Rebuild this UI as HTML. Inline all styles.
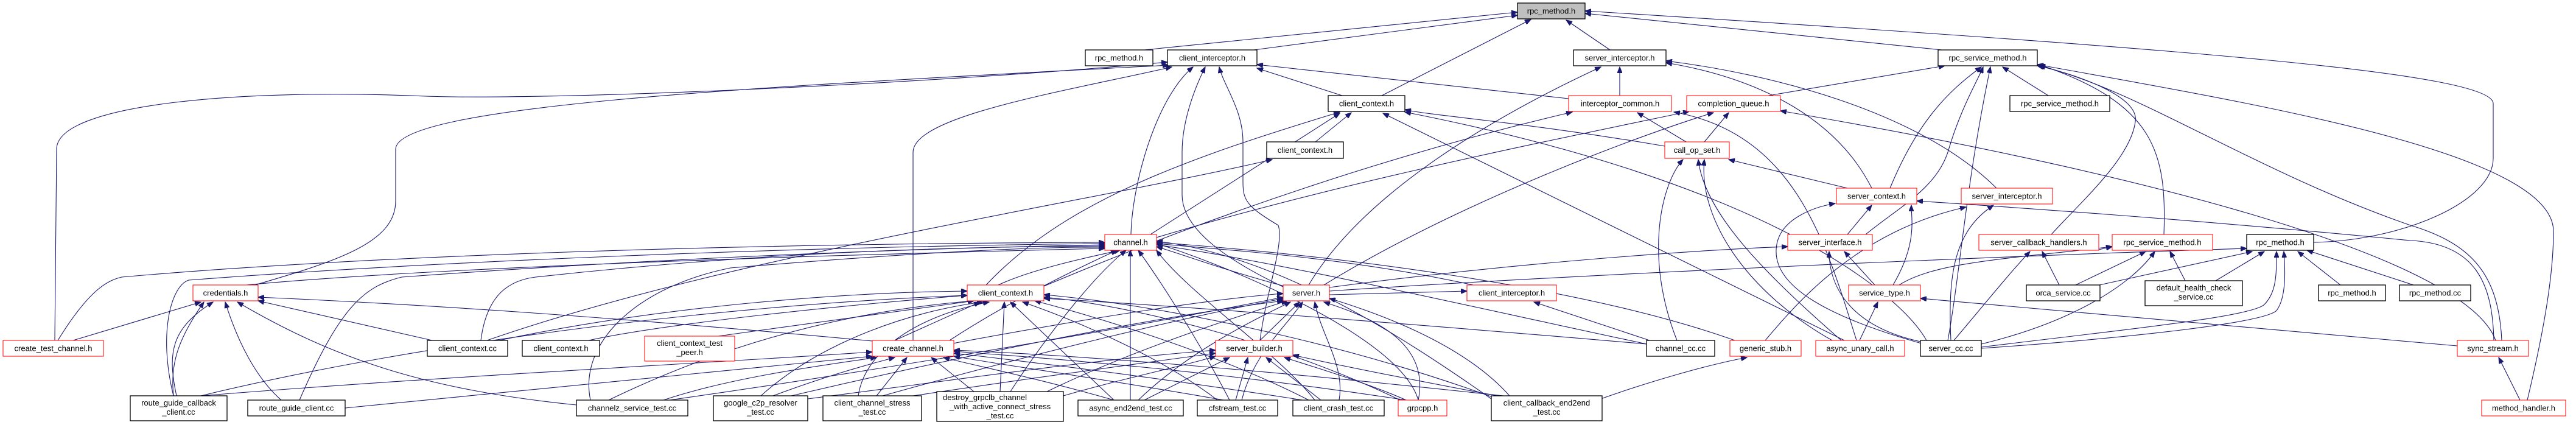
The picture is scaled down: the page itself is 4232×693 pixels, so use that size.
<!DOCTYPE html>
<html><head><meta charset="utf-8"><style>
html,body{margin:0;padding:0;background:#fff;width:4232px;height:693px;overflow:hidden}
svg{display:block}
text{font-family:"Liberation Sans",sans-serif;font-size:13px;fill:#000}
.r{fill:#fff;stroke:#ff0000;stroke-width:1}
.b{fill:#fff;stroke:#000;stroke-width:1.3}
.g{fill:#bfbfbf;stroke:#000;stroke-width:1.3}
path{fill:none;stroke:#191970;stroke-width:1.1}
</style></head><body>
<svg width="4232" height="693" viewBox="0 0 4232 693" xmlns="http://www.w3.org/2000/svg">
<defs><marker id="a" markerWidth="11" markerHeight="8" refX="10" refY="4" orient="auto" markerUnits="userSpaceOnUse"><path d="M0,0 L10,4 L0,8 Z" style="fill:#191970;stroke:#191970"/></marker></defs>
<g marker-end="url(#a)">
<path d="M1880 82 L2493 20"/>
<path d="M2060 82 L2493 25"/>
<path d="M2270 157 L2515 32"/>
<path d="M2645 82 L2573 33"/>
<path d="M3190 82 L2604 22"/>
<path d="M3801 398 C3950 395 4096 330 4096 260 L4096 170 C4096 120 3600 80 2604 18"/>
<path d="M4152 657 C4180 540 4195 450 4195 380 C4195 250 3700 170 3347 106"/>
<path d="M4140 657 L4105 587"/>
<path d="M1858 385 C1860 300 1900 160 1960 110"/>
<path d="M1500 559 L1500 250 C1500 190 1750 150 1925 110"/>
<path d="M405 472 C550 430 650 400 650 330 L650 245 C650 170 1300 140 1920 107"/>
<path d="M90 559 L93 245 C93 170 400 145 700 158 C900 165 1500 140 1918 102"/>
<path d="M2070 559 C2080 480 2110 400 2100 370 C2050 340 2042 330 2042 300 L2042 233 C2042 180 2010 140 2003 110"/>
<path d="M2110 472 C2000 420 1942 370 1942 320 L1942 250 C1942 190 1970 130 1980 110"/>
<path d="M2577 162 L2065 106"/>
<path d="M2205 157 L2065 112"/>
<path d="M1620 468 C1750 330 1950 260 2201 184"/>
<path d="M2161 233 L2220 185"/>
<path d="M1890 385 L2201 186"/>
<path d="M800 559 C1200 420 1800 330 2090 262"/>
<path d="M967 559 C1100 530 1400 500 1589 485"/>
<path d="M2661 157 L2661 110"/>
<path d="M2150 468 C2250 300 2500 170 2630 110"/>
<path d="M3075 309 C3020 200 2900 130 2737 103"/>
<path d="M3280 309 C3150 180 2900 120 2737 100"/>
<path d="M2905 157 L3195 108"/>
<path d="M3365 157 L3290 110"/>
<path d="M3105 309 C3150 200 3200 150 3255 110"/>
<path d="M3065 385 C3120 340 3180 310 3200 250 C3220 180 3250 130 3258 110"/>
<path d="M3370 385 C3420 330 3500 260 3508 200 C3515 160 3420 125 3350 108"/>
<path d="M3555 385 C3560 250 3540 170 3350 106"/>
<path d="M4110 559 C4105 450 4060 400 3960 370 C3700 280 3500 140 3347 108"/>
<path d="M3200 559 C3220 450 3230 300 3270 110"/>
<path d="M2735 240 C2500 200 2350 190 2308 180"/>
<path d="M3030 559 L2272 186"/>
<path d="M3165 559 C3120 480 2900 300 2308 184"/>
<path d="M2770 233 L2690 185"/>
<path d="M1715 470 C2000 350 2300 250 2583 184"/>
<path d="M3050 559 C3000 400 2950 220 2750 184"/>
<path d="M2800 233 L2840 185"/>
<path d="M2175 468 C2400 330 2700 220 2815 185"/>
<path d="M1900 390 C2200 300 2550 230 2775 183"/>
<path d="M4100 559 C4050 420 3500 280 2925 182"/>
<path d="M2755 559 C2700 420 2730 300 2765 262"/>
<path d="M3025 559 C2900 450 2800 350 2790 262"/>
<path d="M3010 559 C2870 480 2790 360 2800 262"/>
<path d="M3035 309 L2840 262"/>
<path d="M3035 385 L3075 337"/>
<path d="M3110 468 C3150 400 3140 360 3140 337"/>
<path d="M3160 565 C3000 520 2915 470 2918 410 C2920 360 2980 340 3015 334"/>
<path d="M3205 559 C3200 450 3210 380 3275 337"/>
<path d="M95 559 C150 470 180 460 200 455 C600 420 1200 400 1815 398"/>
<path d="M285 650 C260 550 280 470 310 460 C700 430 1300 405 1815 400"/>
<path d="M492 657 C560 500 600 470 660 455 C1000 430 1400 410 1815 402"/>
<path d="M790 559 C800 480 840 460 880 455 C1200 420 1500 405 1815 404"/>
<path d="M970 657 C950 560 1050 470 1200 440 C1500 415 1700 405 1815 406"/>
<path d="M405 468 C700 440 1300 420 1815 408"/>
<path d="M1640 468 C1700 440 1800 420 1840 411"/>
<path d="M1560 559 C1650 500 1750 450 1835 411"/>
<path d="M1660 643 C1720 550 1800 450 1850 411"/>
<path d="M1857 657 L1857 411"/>
<path d="M2020 657 C1980 580 1920 480 1870 411"/>
<path d="M2160 657 C2100 580 1950 480 1900 411"/>
<path d="M2330 657 C2300 550 2000 430 1900 400"/>
<path d="M2450 655 C2300 550 2100 420 1900 396"/>
<path d="M2110 470 C2000 440 1950 420 1900 405"/>
<path d="M2420 468 C2200 420 2000 410 1900 400"/>
<path d="M2705 565 C2400 500 2100 430 1900 402"/>
<path d="M2850 559 C2600 470 2200 420 1900 398"/>
<path d="M120 559 L330 496"/>
<path d="M285 650 C280 600 290 560 335 496"/>
<path d="M290 650 C275 580 280 540 350 496"/>
<path d="M462 657 C420 620 390 560 370 496"/>
<path d="M947 665 C700 640 550 590 390 496"/>
<path d="M710 559 L424 494"/>
<path d="M1433 560 C1000 520 700 500 424 488"/>
<path d="M820 559 C1100 500 1400 480 1589 478"/>
<path d="M1180 552 L1600 494"/>
<path d="M1470 559 L1610 496"/>
<path d="M1250 650 C1350 560 1500 510 1615 496"/>
<path d="M1410 650 C1420 580 1500 520 1625 496"/>
<path d="M1643 643 L1650 496"/>
<path d="M1830 657 L1660 496"/>
<path d="M2000 657 C1900 580 1750 520 1680 496"/>
<path d="M2150 657 C2000 580 1800 520 1700 494"/>
<path d="M2300 657 C2100 560 1850 500 1715 488"/>
<path d="M2460 655 C2200 560 1900 500 1715 484"/>
<path d="M1000 657 C1200 560 1400 510 1600 494"/>
<path d="M330 650 C700 560 1200 500 1589 485"/>
<path d="M2705 565 C2300 530 1900 500 1715 490"/>
<path d="M2070 559 L2135 496"/>
<path d="M2200 657 C2210 600 2170 550 2160 496"/>
<path d="M2330 657 C2350 560 2250 520 2175 496"/>
<path d="M2480 650 C2400 560 2250 510 2184 490"/>
<path d="M1870 657 C1950 580 2050 530 2120 496"/>
<path d="M2040 657 C2060 580 2110 540 2140 496"/>
<path d="M1300 650 C1600 580 1900 520 2108 494"/>
<path d="M1450 650 C1700 580 1950 520 2110 490"/>
<path d="M1720 643 C1850 580 2000 530 2115 494"/>
<path d="M1100 657 C1500 600 1900 530 2108 488"/>
<path d="M1560 565 C1800 520 2000 490 2108 482"/>
<path d="M2710 559 L2520 496"/>
<path d="M2184 484 L2410 478"/>
<path d="M330 650 C700 620 1100 600 1433 578"/>
<path d="M1090 657 C1200 620 1350 600 1440 587"/>
<path d="M1270 650 C1350 620 1420 600 1470 587"/>
<path d="M1440 650 L1490 587"/>
<path d="M1600 643 L1530 587"/>
<path d="M1830 657 C1700 620 1600 600 1550 587"/>
<path d="M2010 657 C1800 620 1650 600 1567 585"/>
<path d="M2140 657 C1900 620 1700 595 1567 580"/>
<path d="M2310 657 C2000 610 1750 590 1567 577"/>
<path d="M2470 650 C2100 610 1800 585 1567 575"/>
<path d="M567 670 C900 640 1200 610 1433 585"/>
<path d="M1880 657 L2020 587"/>
<path d="M2030 657 L2050 587"/>
<path d="M2170 657 L2080 587"/>
<path d="M2310 657 C2250 630 2150 600 2110 587"/>
<path d="M2460 650 C2300 620 2200 600 2124 583"/>
<path d="M1500 650 C1700 620 1850 600 1997 580"/>
<path d="M1747 650 C1850 620 1950 600 1997 585"/>
<path d="M1327 655 C1600 620 1800 590 1997 575"/>
<path d="M2630 655 C2700 630 2800 600 2870 587"/>
<path d="M3055 559 L3085 496"/>
<path d="M3160 562 C3050 540 3005 480 3005 413"/>
<path d="M3080 468 L3030 413"/>
<path d="M2184 472 C2500 430 2800 410 2937 405"/>
<path d="M3120 468 C3180 430 3300 425 3470 405"/>
<path d="M3210 559 C3260 500 3300 450 3335 413"/>
<path d="M3383 468 L3355 413"/>
<path d="M3410 468 L3525 413"/>
<path d="M3255 565 C3400 530 3500 470 3540 413"/>
<path d="M3590 461 L3565 413"/>
<path d="M3448 410 L3470 405"/>
<path d="M3440 470 L3700 413"/>
<path d="M3640 461 L3720 413"/>
<path d="M3845 468 L3775 413"/>
<path d="M3965 468 L3790 411"/>
<path d="M3255 570 C3500 540 3700 520 3720 500 C3740 480 3740 450 3740 413"/>
<path d="M3255 572 C3500 555 3720 530 3740 510 C3755 490 3755 450 3752 413"/>
<path d="M2184 478 C2600 450 3300 420 3691 408"/>
<path d="M4037 568 C3700 540 3400 510 3155 490"/>
<path d="M4097 559 C4095 470 4070 400 3960 395 C3600 360 3300 340 3149 330"/>
<path d="M2900 559 C2950 500 3050 380 3230 340"/>
</g>
<g>
<rect class="g" x="2493" y="5" width="111" height="26"/><text x="2548.5" y="22.5" text-anchor="middle">rpc_method.h</text>
<rect class="b" x="1783" y="82" width="111" height="26"/><text x="1838.5" y="99.5" text-anchor="middle">rpc_method.h</text>
<rect class="b" x="1918" y="82" width="147" height="26"/><text x="1991.5" y="99.5" text-anchor="middle">client_interceptor.h</text>
<rect class="b" x="2585" y="82" width="152" height="26"/><text x="2661" y="99.5" text-anchor="middle">server_interceptor.h</text>
<rect class="b" x="3184" y="82" width="163" height="26"/><text x="3265.5" y="99.5" text-anchor="middle">rpc_service_method.h</text>
<rect class="b" x="2182" y="157" width="126" height="26"/><text x="2245" y="174.5" text-anchor="middle">client_context.h</text>
<rect class="r" x="2577" y="157" width="169" height="26"/><text x="2661.5" y="174.5" text-anchor="middle">interceptor_common.h</text>
<rect class="r" x="2771" y="157" width="154" height="26"/><text x="2848" y="174.5" text-anchor="middle">completion_queue.h</text>
<rect class="b" x="3302" y="157" width="164" height="26"/><text x="3384" y="174.5" text-anchor="middle">rpc_service_method.h</text>
<rect class="b" x="2081" y="233" width="126" height="27"/><text x="2144" y="251" text-anchor="middle">client_context.h</text>
<rect class="r" x="2735" y="233" width="106" height="27"/><text x="2788" y="251" text-anchor="middle">call_op_set.h</text>
<rect class="r" x="3017" y="309" width="132" height="26"/><text x="3083" y="326.5" text-anchor="middle">server_context.h</text>
<rect class="r" x="3222" y="309" width="150" height="26"/><text x="3297" y="326.5" text-anchor="middle">server_interceptor.h</text>
<rect class="r" x="1815" y="385" width="85" height="26"/><text x="1857.5" y="402.5" text-anchor="middle">channel.h</text>
<rect class="r" x="2937" y="385" width="139" height="26"/><text x="3006.5" y="402.5" text-anchor="middle">server_interface.h</text>
<rect class="r" x="3251" y="385" width="197" height="26"/><text x="3349.5" y="402.5" text-anchor="middle">server_callback_handlers.h</text>
<rect class="r" x="3470" y="385" width="165" height="26"/><text x="3552.5" y="402.5" text-anchor="middle">rpc_service_method.h</text>
<rect class="b" x="3691" y="385" width="110" height="26"/><text x="3746" y="402.5" text-anchor="middle">rpc_method.h</text>
<rect class="r" x="317" y="468" width="107" height="26"/><text x="370.5" y="485.5" text-anchor="middle">credentials.h</text>
<rect class="r" x="1589" y="468" width="126" height="26"/><text x="1652" y="485.5" text-anchor="middle">client_context.h</text>
<rect class="r" x="2108" y="468" width="76" height="26"/><text x="2146" y="485.5" text-anchor="middle">server.h</text>
<rect class="r" x="2410" y="468" width="147" height="26"/><text x="2483.5" y="485.5" text-anchor="middle">client_interceptor.h</text>
<rect class="r" x="3037" y="468" width="118" height="26"/><text x="3096" y="485.5" text-anchor="middle">service_type.h</text>
<rect class="b" x="3329" y="468" width="121" height="26"/><text x="3389.5" y="485.5" text-anchor="middle">orca_service.cc</text>
<rect class="b" x="3524" y="461" width="160" height="41"/><text x="3604" y="477" text-anchor="middle">default_health_check</text><text x="3604" y="492" text-anchor="middle">_service.cc</text>
<rect class="b" x="3809" y="468" width="110" height="26"/><text x="3864" y="485.5" text-anchor="middle">rpc_method.h</text>
<rect class="b" x="3942" y="468" width="117" height="26"/><text x="4000.5" y="485.5" text-anchor="middle">rpc_method.cc</text>
<rect class="r" x="5" y="559" width="165" height="26"/><text x="87.5" y="576.5" text-anchor="middle">create_test_channel.h</text>
<rect class="b" x="702" y="559" width="132" height="26"/><text x="768" y="576.5" text-anchor="middle">client_context.cc</text>
<rect class="b" x="858" y="559" width="127" height="26"/><text x="921.5" y="576.5" text-anchor="middle">client_context.h</text>
<rect class="r" x="1059" y="552" width="148" height="41"/><text x="1133" y="568" text-anchor="middle">client_context_test</text><text x="1133" y="583" text-anchor="middle">_peer.h</text>
<rect class="r" x="1433" y="559" width="134" height="26"/><text x="1500" y="576.5" text-anchor="middle">create_channel.h</text>
<rect class="r" x="1997" y="559" width="127" height="26"/><text x="2060.5" y="576.5" text-anchor="middle">server_builder.h</text>
<rect class="b" x="2705" y="559" width="112" height="26"/><text x="2761" y="576.5" text-anchor="middle">channel_cc.cc</text>
<rect class="r" x="2842" y="559" width="117" height="26"/><text x="2900.5" y="576.5" text-anchor="middle">generic_stub.h</text>
<rect class="r" x="2983" y="559" width="146" height="26"/><text x="3056" y="576.5" text-anchor="middle">async_unary_call.h</text>
<rect class="b" x="3155" y="559" width="100" height="26"/><text x="3205" y="576.5" text-anchor="middle">server_cc.cc</text>
<rect class="r" x="4037" y="559" width="117" height="26"/><text x="4095.5" y="576.5" text-anchor="middle">sync_stream.h</text>
<rect class="b" x="214" y="650" width="159" height="41"/><text x="293.5" y="666" text-anchor="middle">route_guide_callback</text><text x="293.5" y="681" text-anchor="middle">_client.cc</text>
<rect class="b" x="407" y="657" width="160" height="26"/><text x="487" y="674.5" text-anchor="middle">route_guide_client.cc</text>
<rect class="b" x="947" y="657" width="183" height="26"/><text x="1038.5" y="674.5" text-anchor="middle">channelz_service_test.cc</text>
<rect class="b" x="1172" y="650" width="155" height="41"/><text x="1249.5" y="666" text-anchor="middle">google_c2p_resolver</text><text x="1249.5" y="681" text-anchor="middle">_test.cc</text>
<rect class="b" x="1352" y="650" width="162" height="41"/><text x="1433" y="666" text-anchor="middle">client_channel_stress</text><text x="1433" y="681" text-anchor="middle">_test.cc</text>
<rect class="b" x="1539" y="643" width="208" height="49"/><text x="1549" y="657">destroy_grpclb_channel</text><text x="1643" y="672" text-anchor="middle">_with_active_connect_stress</text><text x="1643" y="687" text-anchor="middle">_test.cc</text>
<rect class="b" x="1771" y="657" width="173" height="26"/><text x="1857.5" y="674.5" text-anchor="middle">async_end2end_test.cc</text>
<rect class="b" x="1967" y="657" width="132" height="26"/><text x="2033" y="674.5" text-anchor="middle">cfstream_test.cc</text>
<rect class="b" x="2124" y="657" width="150" height="26"/><text x="2199" y="674.5" text-anchor="middle">client_crash_test.cc</text>
<rect class="r" x="2297" y="657" width="80" height="26"/><text x="2337" y="674.5" text-anchor="middle">grpcpp.h</text>
<rect class="b" x="2450" y="650" width="182" height="41"/><text x="2541" y="666" text-anchor="middle">client_callback_end2end</text><text x="2541" y="681" text-anchor="middle">_test.cc</text>
<rect class="r" x="4077" y="657" width="138" height="26"/><text x="4146" y="674.5" text-anchor="middle">method_handler.h</text>
</g>
</svg>
</body></html>
